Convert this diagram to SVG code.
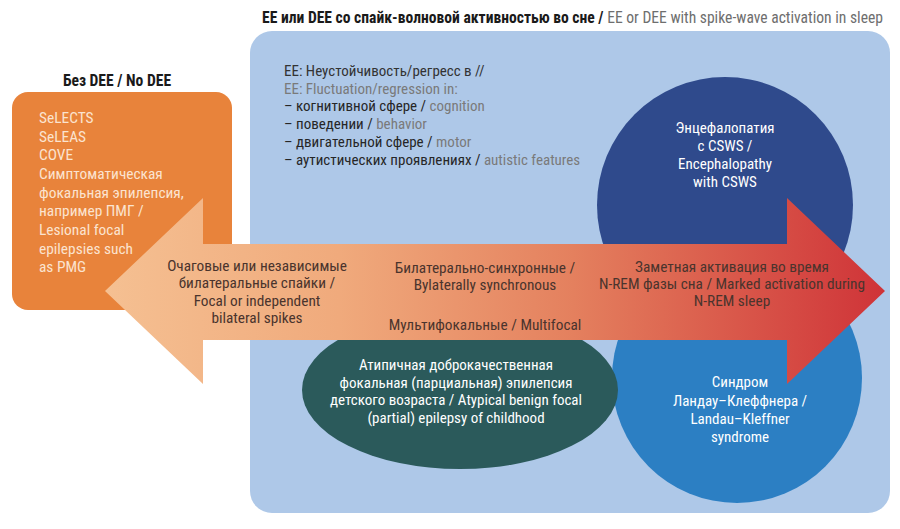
<svg xmlns="http://www.w3.org/2000/svg" width="900" height="529" viewBox="0 0 900 529">
<defs>
<linearGradient id="arrowGrad" x1="105" y1="0" x2="885" y2="0" gradientUnits="userSpaceOnUse">
<stop offset="0" stop-color="#f5c092"/>
<stop offset="0.3" stop-color="#f0aa7c"/>
<stop offset="0.6" stop-color="#e4805e"/>
<stop offset="1" stop-color="#cf3338"/>
</linearGradient>
<style>
text{font-family:"Liberation Sans Narrow","Roboto Condensed","Liberation Sans",Arial,sans-serif;}
.t{font-size:15px;}
.ttl{font-size:15.6px;font-weight:bold;}
.w{fill:#ffffff;font-size:15px;text-anchor:middle;}
.ar{fill:#4a342d;font-size:15.3px;text-anchor:middle;}
.or{fill:#fbe3d0;font-size:15.4px;}
.ru{fill:#262626;}
.en{fill:#7a7a7a;}
.tb{fill:#1a1a1a;}
.tg{fill:#6e6e6e;}
</style>
</defs>
<rect width="900" height="529" fill="#ffffff"/>

<g id="title-ee">
<text class="ttl" x="262" y="23"><tspan class="tb">EE или DEE со спайк-волновой активностью во сне / </tspan><tspan class="tg" font-weight="normal">EE or DEE with spike-wave activation in sleep</tspan></text>
</g>

<g id="panel-ee">
<rect x="250" y="31" width="640" height="482" rx="22" fill="#aec8e8"/>
</g>

<g id="title-no-dee">
<text class="ttl" x="117" y="86" text-anchor="middle" font-size="16.5px"><tspan class="tb">Без DEE / </tspan><tspan class="tb">No DEE</tspan></text>
</g>

<g id="box-no-dee">
<rect x="12" y="92" width="220" height="218" rx="16" fill="#e8833b"/>
<text class="or" x="39" y="123">SeLECTS</text>
<text class="or" x="39" y="142">SeLEAS</text>
<text class="or" x="39" y="160">COVE</text>
<text class="or" x="39" y="179">Симптоматическая</text>
<text class="or" x="39" y="198">фокальная эпилепсия,</text>
<text class="or" x="39" y="216">например ПМГ /</text>
<text class="or" x="39" y="235">Lesional focal</text>
<text class="or" x="39" y="254">epilepsies such</text>
<text class="or" x="39" y="272">as PMG</text>
</g>

<g id="ee-features">
<text class="t" x="284" y="76" fill="#333333">EE: Неустойчивость/регресс в //</text>
<text class="t en" x="284" y="94">EE: Fluctuation/regression in:</text>
<text class="t" x="284" y="111"><tspan class="ru">– когнитивной сфере / </tspan><tspan class="en">cognition</tspan></text>
<text class="t" x="284" y="129"><tspan class="ru">– поведении / </tspan><tspan class="en">behavior</tspan></text>
<text class="t" x="284" y="147"><tspan class="ru">– двигательной сфере / </tspan><tspan class="en">motor</tspan></text>
<text class="t" x="284" y="165"><tspan class="ru">– аутистических проявлениях / </tspan><tspan class="en">autistic features</tspan></text>
</g>

<g id="node-cSWS">
<circle cx="725" cy="205" r="128" fill="#2f4a8c"/>
<text class="w" x="725" y="133">Энцефалопатия</text>
<text class="w" x="725" y="151">с CSWS /</text>
<text class="w" x="725" y="169">Encephalopathy</text>
<text class="w" x="725" y="187">with CSWS</text>
</g>

<g id="node-lks">
<circle cx="737" cy="378" r="125" fill="#2c7fc3"/>
<text class="w" x="740" y="387">Синдром</text>
<text class="w" x="740" y="406">Ландау–Клеффнера /</text>
<text class="w" x="740" y="424">Landau–Kleffner</text>
<text class="w" x="740" y="442">syndrome</text>
</g>

<g id="node-abpe">
<ellipse cx="460" cy="390" rx="158" ry="79" fill="#2b5a5b"/>
<text class="w" x="456" y="370">Атипичная доброкачественная</text>
<text class="w" x="456" y="388">фокальная (парциальная) эпилепсия</text>
<text class="w" x="456" y="405">детского возраста / Atypical benign focal</text>
<text class="w" x="456" y="423">(partial) epilepsy of childhood</text>
</g>

<g id="connectors">
<path d="M105,291 L203,198 L203,244 L787,244 L787,198 L885,291 L787,384 L787,340 L203,340 L203,384 Z" fill="url(#arrowGrad)"/>
<text class="ar" x="257" y="271">Очаговые или независимые</text>
<text class="ar" x="257" y="288">билатеральные спайки /</text>
<text class="ar" x="257" y="305.5">Focal or independent</text>
<text class="ar" x="257" y="322.5">bilateral spikes</text>
<text class="ar" x="485" y="273">Билатерально-синхронные /</text>
<text class="ar" x="485" y="290">Bylaterally synchronous</text>
<text class="ar" x="485" y="330">Мультифокальные / Multifocal</text>
<text class="ar" x="732" y="272">Заметная активация во время</text>
<text class="ar" x="732" y="289">N-REM фазы сна / Marked activation during</text>
<text class="ar" x="732" y="306">N-REM sleep</text>
</g>
</svg>
